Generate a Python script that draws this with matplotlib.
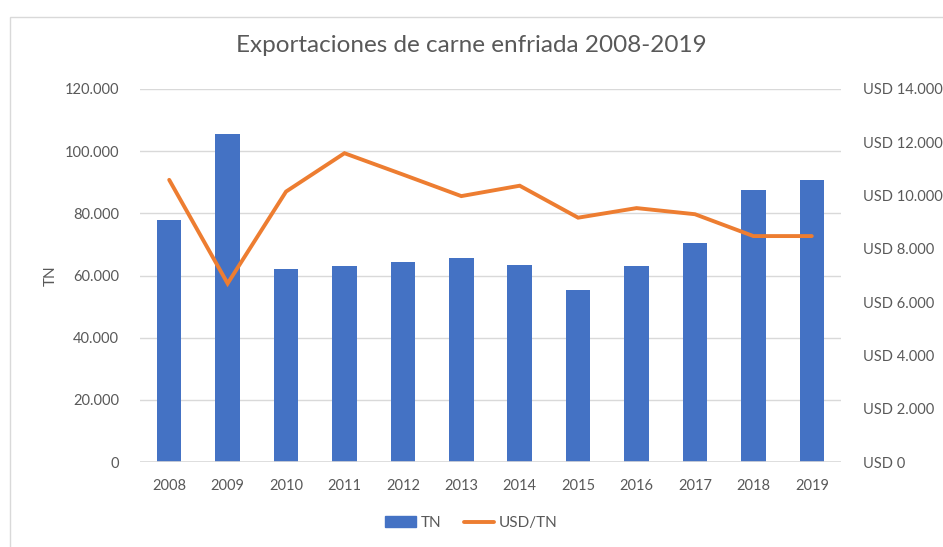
import matplotlib.pyplot as plt
from matplotlib.patches import Rectangle
from matplotlib.lines import Line2D
from matplotlib.ticker import FuncFormatter

plt.rcParams['font.family'] = ['Lato', 'DejaVu Sans']

years = ['2008', '2009', '2010', '2011', '2012', '2013',
         '2014', '2015', '2016', '2017', '2018', '2019']
tn = [77800, 105500, 62100, 62900, 64200, 65500,
      63500, 55200, 62900, 70600, 87400, 90600]
usd_tn = [10590, 6700, 10150, 11590, 10790, 9980,
          10370, 9170, 9530, 9300, 8480, 8480]

blue = '#4472C4'
orange = '#ED7D31'
grey = '#595959'
grid = '#D9D9D9'


def miles(v):
    s = f'{int(round(v)):,}'.replace(',', '.')
    return s


fig = plt.figure(figsize=(9.43, 5.47), dpi=100)
fig.patches.append(Rectangle((10 / 943, -0.1), 1.2, 1 - 17 / 547 + 0.1,
                             transform=fig.transFigure, fill=False,
                             edgecolor='#D9D9D9', linewidth=1))

ax = fig.add_axes([140 / 943, 85 / 547, 701 / 943, 373 / 547])
x = list(range(len(years)))
ax.bar(x, tn, width=0.42, color=blue, zorder=2)
ax.set_xlim(-0.5, len(years) - 0.5)
ax.set_ylim(0, 120000)
ax.set_yticks(range(0, 120001, 20000))
ax.yaxis.set_major_formatter(FuncFormatter(lambda v, p: miles(v)))
ax.set_xticks(x)
ax.set_xticklabels(years)
ax.grid(axis='y', color=grid, linewidth=1, zorder=0)
for s in ax.spines.values():
    s.set_visible(False)
ax.axhline(0, color=grid, linewidth=1.2, zorder=3)
ax.tick_params(length=0, colors=grey, labelsize=10.5)
ax.tick_params(axis='y', pad=15)
ax.tick_params(axis='x', pad=12)
ax.set_ylabel('TN', color=grey, fontsize=11, labelpad=5)

ax2 = ax.twinx()
ax2.plot(x, usd_tn, color=orange, linewidth=2.8, solid_capstyle='round',
         solid_joinstyle='miter', zorder=4)
ax2.set_ylim(0, 14000)
ax2.set_yticks(range(0, 14001, 2000))
ax2.yaxis.set_major_formatter(FuncFormatter(lambda v, p: 'USD ' + miles(v)))
for s in ax2.spines.values():
    s.set_visible(False)
ax2.tick_params(length=0, colors=grey, labelsize=10.5, pad=16)

fig.text(0.5, 1 - 46 / 547, 'Exportaciones de carne enfriada 2008-2019',
         ha='center', va='center', fontsize=17.5, color=grey)

handles = [Rectangle((0, 0), 1, 1, color=blue),
           Line2D([0], [0], color=orange, linewidth=2.8, solid_capstyle='round')]
fig.legend(handles, ['TN', 'USD/TN'], loc='center', ncol=2,
           bbox_to_anchor=(0.5, 1 - 523 / 547), frameon=False,
           fontsize=11, labelcolor=grey, handlelength=2.0,
           handletextpad=0.3, columnspacing=1.5)

fig.savefig('out.png', dpi=100)
